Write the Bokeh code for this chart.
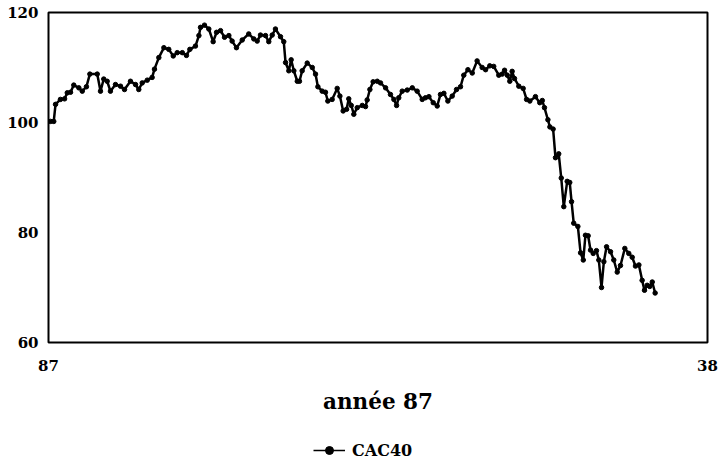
from bokeh.plotting import figure
from bokeh.models import Range1d, FixedTicker, Legend, LegendItem
from bokeh.layouts import column
from bokeh.embed import file_html
from bokeh.resources import INLINE

# Day of year 1987 and CAC40 index (base 100)
days = [1.1, 2.9, 3.9, 6.6, 8.9, 10.4, 12.2, 14.0, 16.8, 18.7, 21.0, 22.9, 27.0, 28.8, 30.6,
        32.5, 34.3, 37.1, 39.9, 42.1, 45.4, 48.2, 50.0, 51.9, 54.7, 57.4, 58.7, 61.1, 63.9,
        66.6, 69.1, 71.3, 74.1, 76.4, 78.3, 81.4, 83.3, 84.2, 86.4, 88.8, 91.2, 93.1, 95.3,
        97.5, 99.9, 101.7, 104.1, 107.3, 110.9, 113.7, 115.6, 117.4, 120.2, 122.0, 123.9,
        125.7, 128.5, 130.3, 131.3, 133.1, 134.4, 135.9, 137.8, 139.0, 140.5, 143.3, 146.1,
        147.9, 149.2, 151.6, 153.4, 154.7, 157.1, 159.9, 161.4, 163.2, 165.1, 166.3, 167.7,
        169.1, 171.0, 173.8, 175.6, 176.5, 178.0, 179.8, 182.1, 183.9, 186.7, 189.4, 191.3,
        192.8, 194.0, 195.9, 198.7, 201.5, 204.2, 207.0, 208.8, 210.7, 213.1, 215.3, 217.1,
        219.0, 221.2, 223.6, 226.0, 228.2, 230.0, 232.3, 234.7, 237.4, 240.2, 242.1, 244.4,
        246.6, 249.4, 251.3, 252.6, 254.1, 255.5, 256.8, 258.1, 260.5, 262.9, 264.8, 266.6,
        269.7, 272.1, 273.5, 274.7, 276.6, 277.7, 279.5, 280.8, 282.6, 284.0, 285.4, 287.3,
        288.7, 289.7, 290.9, 293.2, 294.7, 296.2, 297.4, 298.9, 300.2, 301.7, 303.5, 304.8,
        306.3, 307.6, 309.1, 311.3, 313.1, 315.0, 316.8, 319.2, 321.4, 323.3, 325.1, 327.0,
        328.8, 330.1, 331.6, 333.0, 334.4, 336.0]
cac40 = [100.2, 100.2, 103.3, 104.2, 104.3, 105.4, 105.5, 106.8, 106.3, 105.7, 106.5, 108.8,
         108.8, 105.7, 107.9, 107.5, 105.7, 106.9, 106.6, 106.0, 107.5, 106.9, 106.0, 107.2,
         107.7, 108.2, 109.7, 111.8, 113.6, 113.3, 112.1, 112.7, 112.7, 112.2, 113.3, 113.9,
         115.8, 117.3, 117.7, 117.0, 114.7, 116.4, 116.7, 115.5, 115.8, 114.8, 113.6, 115.0,
         116.1, 115.2, 114.8, 115.9, 115.8, 114.7, 115.9, 117.0, 115.6, 114.7, 110.9, 109.4,
         111.4, 109.4, 107.5, 107.5, 109.4, 110.8, 110.0, 108.8, 106.5, 105.7, 105.5, 103.9,
         104.2, 106.2, 104.8, 102.1, 102.4, 104.3, 103.1, 101.5, 102.7, 103.1, 102.9, 104.1,
         106.0, 107.4, 107.5, 107.2, 106.3, 105.1, 104.2, 103.1, 104.5, 105.7, 105.9, 106.3,
         105.7, 104.2, 104.5, 104.7, 103.6, 103.0, 105.1, 105.3, 103.9, 104.8, 106.0, 106.5,
         108.6, 109.6, 109.0, 111.2, 110.0, 109.6, 110.3, 110.2, 108.6, 108.8, 109.5, 108.6,
         107.5, 109.3, 108.0, 106.6, 106.2, 104.2, 103.9, 104.7, 103.6, 104.0, 102.7, 100.5,
         99.2, 98.8, 93.6, 94.3, 89.9, 84.7, 89.3, 89.1, 85.6, 81.7, 81.1, 76.3, 75.0, 79.5,
         79.4, 76.8, 76.2, 76.7, 75.0, 70.0, 74.7, 77.4, 76.5, 75.0, 72.8, 74.0, 77.1, 76.2,
         75.5, 73.9, 74.1, 71.3, 69.5, 70.4, 70.2, 71.0, 69.0]

y_ticks = [60, 80, 100, 120]
x_ticks = [0, 365]
x_tick_labels = {0: "87", 365: "38"}
x_title = "année 87"
series_name = "CAC40"

FONT = "DejaVu Serif"

p = figure(width=719, height=430, output_backend="svg", toolbar_location=None,
           x_range=Range1d(0, 365), y_range=Range1d(60, 120),
           min_border_left=48, min_border_right=12, min_border_top=12, min_border_bottom=88)
p.xgrid.visible = False
p.ygrid.visible = False
p.outline_line_color = "black"
p.outline_line_width = 2
p.background_fill_color = "white"
p.border_fill_color = "white"

for ax in (p.xaxis, p.yaxis):
    ax.axis_line_color = None
    ax.major_tick_line_color = None
    ax.minor_tick_line_color = None
    ax.major_tick_out = 0
    ax.major_tick_in = 0
    ax.major_label_text_font = FONT
    ax.major_label_text_font_style = "bold"
    ax.major_label_text_font_size = "15px"
    ax.major_label_text_color = "black"

p.yaxis.ticker = FixedTicker(ticks=y_ticks)
p.yaxis.major_label_standoff = 10
p.xaxis.ticker = FixedTicker(ticks=x_ticks)
p.xaxis.major_label_overrides = x_tick_labels
p.xaxis.major_label_standoff = 17
p.xaxis.axis_label = x_title
p.xaxis.axis_label_text_font = FONT
p.xaxis.axis_label_text_font_style = "bold"
p.xaxis.axis_label_text_font_size = "21.5px"
p.xaxis.axis_label_text_color = "black"
p.xaxis.axis_label_standoff = 15

p.line(days, cac40, line_color="black", line_width=2.5)
p.scatter(days, cac40, size=4.5, fill_color="black", line_color="black")

# Legend strip below the chart (its renderers sit outside the strip's visible range)
q = figure(width=719, height=30, output_backend="svg", toolbar_location=None,
           x_range=Range1d(-2, -1), y_range=Range1d(0, 1),
           min_border_left=0, min_border_right=0, min_border_top=0, min_border_bottom=0,
           x_axis_type=None, y_axis_type=None)
q.xgrid.visible = False
q.ygrid.visible = False
q.outline_line_color = None
q.border_fill_color = "white"
ln = q.line(days, cac40, line_color="black", line_width=1.5)
sc = q.scatter(days, cac40, size=3.5, fill_color="black", line_color="black")

legend = Legend(items=[LegendItem(label=series_name, renderers=[ln, sc])],
                location=(265, 0), padding=0, margin=0, glyph_width=32,
                label_standoff=7, border_line_color=None, background_fill_alpha=0,
                label_text_font=FONT, label_text_font_style="bold",
                label_text_font_size="16px", label_text_color="black")
q.add_layout(legend, "center")

open("out.html", "w").write(file_html(column(p, q, spacing=0), INLINE))
